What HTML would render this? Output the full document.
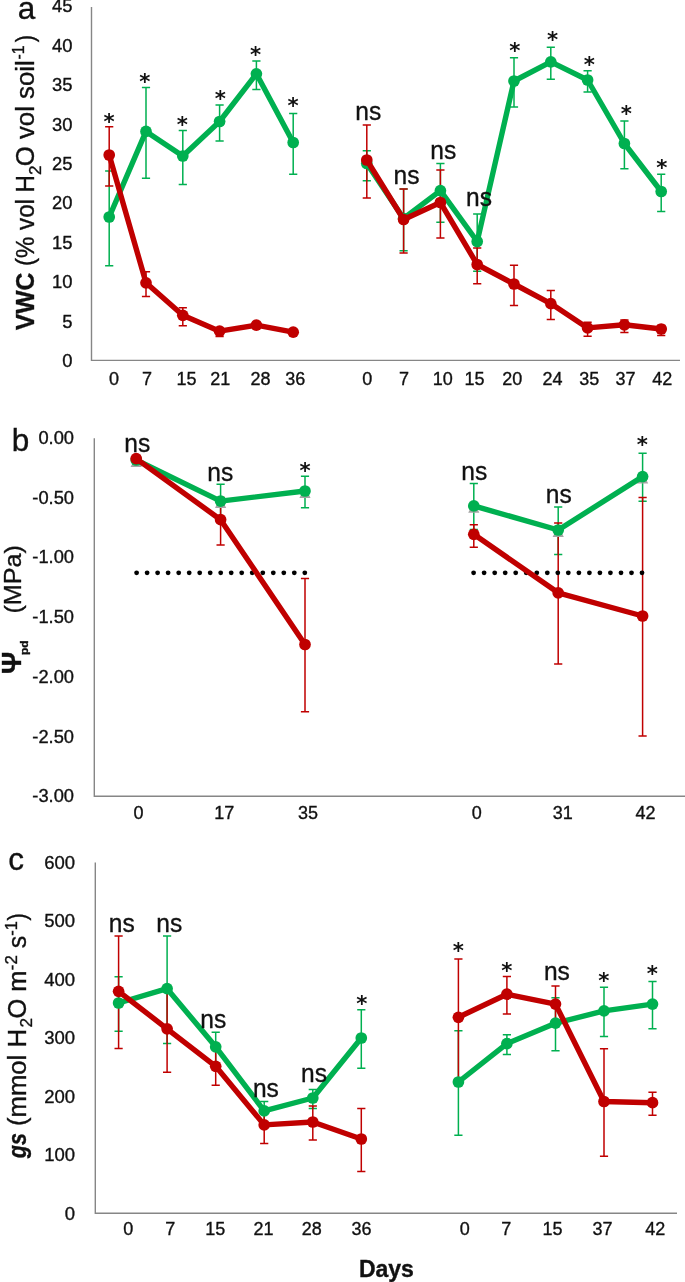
<!DOCTYPE html><html><head><meta charset="utf-8"><title>Figure</title>
<style>html,body{margin:0;padding:0;background:#fff}svg{display:block}text{font-family:"Liberation Sans",sans-serif;fill:#111;stroke:#111;stroke-width:0.35px}text.st{font-family:"DejaVu Sans","Liberation Sans",sans-serif;font-weight:bold;stroke:none}</style></head><body>
<svg width="685" height="1282" viewBox="0 0 685 1282">
<rect width="685" height="1282" fill="#fff"/>
<path d="M91.5 7V360.4H680" stroke="#868686" stroke-width="1.4" fill="none"/>
<text x="72.4" y="367.0" font-size="18.4" text-anchor="end" font-weight="normal" >0</text>
<text x="72.4" y="327.6" font-size="18.4" text-anchor="end" font-weight="normal" >5</text>
<text x="72.4" y="288.2" font-size="18.4" text-anchor="end" font-weight="normal" >10</text>
<text x="72.4" y="248.8" font-size="18.4" text-anchor="end" font-weight="normal" >15</text>
<text x="72.4" y="209.4" font-size="18.4" text-anchor="end" font-weight="normal" >20</text>
<text x="72.4" y="170.0" font-size="18.4" text-anchor="end" font-weight="normal" >25</text>
<text x="72.4" y="130.6" font-size="18.4" text-anchor="end" font-weight="normal" >30</text>
<text x="72.4" y="91.2" font-size="18.4" text-anchor="end" font-weight="normal" >35</text>
<text x="72.4" y="51.8" font-size="18.4" text-anchor="end" font-weight="normal" >40</text>
<text x="72.4" y="12.4" font-size="18.4" text-anchor="end" font-weight="normal" >45</text>
<path d="M109.2 171.1V265.7M105.1 171.1h8.2M105.1 265.7h8.2" stroke="#00b050" stroke-width="1.5" fill="none"/>
<path d="M146.0 87.4V178.2M141.9 87.4h8.2M141.9 178.2h8.2" stroke="#00b050" stroke-width="1.5" fill="none"/>
<path d="M182.8 130.4V184.4M178.7 130.4h8.2M178.7 184.4h8.2" stroke="#00b050" stroke-width="1.5" fill="none"/>
<path d="M219.6 104.9V140.9M215.5 104.9h8.2M215.5 140.9h8.2" stroke="#00b050" stroke-width="1.5" fill="none"/>
<path d="M256.4 61.0V89.4M252.3 61.0h8.2M252.3 89.4h8.2" stroke="#00b050" stroke-width="1.5" fill="none"/>
<path d="M293.2 113.6V174.2M289.1 113.6h8.2M289.1 174.2h8.2" stroke="#00b050" stroke-width="1.5" fill="none"/>
<path d="M366.8 150.8V180.7M362.7 150.8h8.2M362.7 180.7h8.2" stroke="#00b050" stroke-width="1.5" fill="none"/>
<path d="M403.6 189.1V250.7M399.5 189.1h8.2M399.5 250.7h8.2" stroke="#00b050" stroke-width="1.5" fill="none"/>
<path d="M440.4 163.6V222.2M436.3 163.6h8.2M436.3 222.2h8.2" stroke="#00b050" stroke-width="1.5" fill="none"/>
<path d="M477.2 214.0V271.2M473.1 214.0h8.2M473.1 271.2h8.2" stroke="#00b050" stroke-width="1.5" fill="none"/>
<path d="M514.0 57.8V107.0M509.9 57.8h8.2M509.9 107.0h8.2" stroke="#00b050" stroke-width="1.5" fill="none"/>
<path d="M550.8 47.2V79.2M546.7 47.2h8.2M546.7 79.2h8.2" stroke="#00b050" stroke-width="1.5" fill="none"/>
<path d="M587.6 70.7V92.1M583.5 70.7h8.2M583.5 92.1h8.2" stroke="#00b050" stroke-width="1.5" fill="none"/>
<path d="M624.4 121.1V168.7M620.3 121.1h8.2M620.3 168.7h8.2" stroke="#00b050" stroke-width="1.5" fill="none"/>
<path d="M661.2 174.3V211.5M657.1 174.3h8.2M657.1 211.5h8.2" stroke="#00b050" stroke-width="1.5" fill="none"/>
<path d="M109.2 126.8V186.0M105.1 126.8h8.2M105.1 186.0h8.2" stroke="#c00000" stroke-width="1.5" fill="none"/>
<path d="M146.0 271.8V296.6M141.9 271.8h8.2M141.9 296.6h8.2" stroke="#c00000" stroke-width="1.5" fill="none"/>
<path d="M182.8 307.7V325.7M178.7 307.7h8.2M178.7 325.7h8.2" stroke="#c00000" stroke-width="1.5" fill="none"/>
<path d="M219.6 328.6V336.6M215.5 328.6h8.2M215.5 336.6h8.2" stroke="#c00000" stroke-width="1.5" fill="none"/>
<path d="M366.8 124.9V197.9M362.7 124.9h8.2M362.7 197.9h8.2" stroke="#c00000" stroke-width="1.5" fill="none"/>
<path d="M403.6 188.9V252.9M399.5 188.9h8.2M399.5 252.9h8.2" stroke="#c00000" stroke-width="1.5" fill="none"/>
<path d="M440.4 169.9V237.9M436.3 169.9h8.2M436.3 237.9h8.2" stroke="#c00000" stroke-width="1.5" fill="none"/>
<path d="M477.2 248.0V283.8M473.1 248.0h8.2M473.1 283.8h8.2" stroke="#c00000" stroke-width="1.5" fill="none"/>
<path d="M514.0 265.3V305.5M509.9 265.3h8.2M509.9 305.5h8.2" stroke="#c00000" stroke-width="1.5" fill="none"/>
<path d="M550.8 290.6V319.4M546.7 290.6h8.2M546.7 319.4h8.2" stroke="#c00000" stroke-width="1.5" fill="none"/>
<path d="M587.6 322.3V336.3M583.5 322.3h8.2M583.5 336.3h8.2" stroke="#c00000" stroke-width="1.5" fill="none"/>
<path d="M624.4 320.0V332.4M620.3 320.0h8.2M620.3 332.4h8.2" stroke="#c00000" stroke-width="1.5" fill="none"/>
<path d="M661.2 325.4V335.4M657.1 325.4h8.2M657.1 335.4h8.2" stroke="#c00000" stroke-width="1.5" fill="none"/>
<path d="M109.2 217.0 L146.0 131.4 L182.8 156.0 L219.6 121.5 L256.4 73.8 L293.2 142.5" stroke="#00b050" stroke-width="5.4" fill="none" stroke-linejoin="round" stroke-linecap="round"/>
<circle cx="109.2" cy="217.0" r="5.85" fill="#00b050"/>
<circle cx="146.0" cy="131.4" r="5.85" fill="#00b050"/>
<circle cx="182.8" cy="156.0" r="5.85" fill="#00b050"/>
<circle cx="219.6" cy="121.5" r="5.85" fill="#00b050"/>
<circle cx="256.4" cy="73.8" r="5.85" fill="#00b050"/>
<circle cx="293.2" cy="142.5" r="5.85" fill="#00b050"/>
<path d="M366.8 163.5 L403.6 218.5 L440.4 190.7 L477.2 241.5 L514.0 81.0 L550.8 61.8 L587.6 80.0 L624.4 143.5 L661.2 191.5" stroke="#00b050" stroke-width="5.4" fill="none" stroke-linejoin="round" stroke-linecap="round"/>
<circle cx="366.8" cy="163.5" r="5.85" fill="#00b050"/>
<circle cx="403.6" cy="218.5" r="5.85" fill="#00b050"/>
<circle cx="440.4" cy="190.7" r="5.85" fill="#00b050"/>
<circle cx="477.2" cy="241.5" r="5.85" fill="#00b050"/>
<circle cx="514.0" cy="81.0" r="5.85" fill="#00b050"/>
<circle cx="550.8" cy="61.8" r="5.85" fill="#00b050"/>
<circle cx="587.6" cy="80.0" r="5.85" fill="#00b050"/>
<circle cx="624.4" cy="143.5" r="5.85" fill="#00b050"/>
<circle cx="661.2" cy="191.5" r="5.85" fill="#00b050"/>
<path d="M109.2 155.0 L146.0 282.8 L182.8 315.3 L219.6 331.2 L256.4 325.2 L293.2 332.2" stroke="#c00000" stroke-width="5.4" fill="none" stroke-linejoin="round" stroke-linecap="round"/>
<circle cx="109.2" cy="155.0" r="5.85" fill="#c00000"/>
<circle cx="146.0" cy="282.8" r="5.85" fill="#c00000"/>
<circle cx="182.8" cy="315.3" r="5.85" fill="#c00000"/>
<circle cx="219.6" cy="331.2" r="5.85" fill="#c00000"/>
<circle cx="256.4" cy="325.2" r="5.85" fill="#c00000"/>
<circle cx="293.2" cy="332.2" r="5.85" fill="#c00000"/>
<path d="M366.8 160.0 L403.6 219.5 L440.4 202.5 L477.2 264.5 L514.0 284.0 L550.8 303.6 L587.6 327.9 L624.4 324.8 L661.2 329.0" stroke="#c00000" stroke-width="5.4" fill="none" stroke-linejoin="round" stroke-linecap="round"/>
<circle cx="366.8" cy="160.0" r="5.85" fill="#c00000"/>
<circle cx="403.6" cy="219.5" r="5.85" fill="#c00000"/>
<circle cx="440.4" cy="202.5" r="5.85" fill="#c00000"/>
<circle cx="477.2" cy="264.5" r="5.85" fill="#c00000"/>
<circle cx="514.0" cy="284.0" r="5.85" fill="#c00000"/>
<circle cx="550.8" cy="303.6" r="5.85" fill="#c00000"/>
<circle cx="587.6" cy="327.9" r="5.85" fill="#c00000"/>
<circle cx="624.4" cy="324.8" r="5.85" fill="#c00000"/>
<circle cx="661.2" cy="329.0" r="5.85" fill="#c00000"/>
<text x="114.0" y="385.2" font-size="18" text-anchor="middle" font-weight="normal" >0</text>
<text x="147.1" y="385.2" font-size="18" text-anchor="middle" font-weight="normal" >7</text>
<text x="186.4" y="385.2" font-size="18" text-anchor="middle" font-weight="normal" >15</text>
<text x="220.3" y="385.2" font-size="18" text-anchor="middle" font-weight="normal" >21</text>
<text x="260.6" y="385.2" font-size="18" text-anchor="middle" font-weight="normal" >28</text>
<text x="295.3" y="385.2" font-size="18" text-anchor="middle" font-weight="normal" >36</text>
<text x="367.3" y="385.2" font-size="18" text-anchor="middle" font-weight="normal" >0</text>
<text x="404.0" y="385.2" font-size="18" text-anchor="middle" font-weight="normal" >7</text>
<text x="442.8" y="385.2" font-size="18" text-anchor="middle" font-weight="normal" >10</text>
<text x="474.5" y="385.2" font-size="18" text-anchor="middle" font-weight="normal" >15</text>
<text x="512.3" y="385.2" font-size="18" text-anchor="middle" font-weight="normal" >20</text>
<text x="552.5" y="385.2" font-size="18" text-anchor="middle" font-weight="normal" >24</text>
<text x="589.2" y="385.2" font-size="18" text-anchor="middle" font-weight="normal" >35</text>
<text x="625.4" y="385.2" font-size="18" text-anchor="middle" font-weight="normal" >37</text>
<text x="662.2" y="385.2" font-size="18" text-anchor="middle" font-weight="normal" >42</text>
<text x="109.1" y="129.2" font-size="21.3" text-anchor="middle" class="st">*</text>
<text x="144.9" y="89.3" font-size="21.3" text-anchor="middle" class="st">*</text>
<text x="182.2" y="131.6" font-size="21.3" text-anchor="middle" class="st">*</text>
<text x="220.2" y="106.1" font-size="21.3" text-anchor="middle" class="st">*</text>
<text x="255.6" y="62.4" font-size="21.3" text-anchor="middle" class="st">*</text>
<text x="293.0" y="113.1" font-size="21.3" text-anchor="middle" class="st">*</text>
<text x="514.7" y="57.9" font-size="21.3" text-anchor="middle" class="st">*</text>
<text x="552.5" y="47.0" font-size="21.3" text-anchor="middle" class="st">*</text>
<text x="589.2" y="71.8" font-size="21.3" text-anchor="middle" class="st">*</text>
<text x="626.4" y="121.4" font-size="21.3" text-anchor="middle" class="st">*</text>
<text x="661.7" y="174.6" font-size="21.3" text-anchor="middle" class="st">*</text>
<text transform="translate(368.3 119.7) scale(0.945 1)" font-size="26" text-anchor="middle" stroke-width="0.15">ns</text>
<text transform="translate(406.5 184.3) scale(0.945 1)" font-size="26" text-anchor="middle" stroke-width="0.15">ns</text>
<text transform="translate(443.3 159.4) scale(0.945 1)" font-size="26" text-anchor="middle" stroke-width="0.15">ns</text>
<text transform="translate(479.0 205.6) scale(0.945 1)" font-size="26" text-anchor="middle" stroke-width="0.15">ns</text>
<text x="26.4" y="19.1" font-size="31.5" text-anchor="middle" font-weight="normal" >a</text>
<text transform="translate(34.0 330.3) rotate(-90)" font-size="25.5" font-weight="bold" font-style="normal" textLength="57.5" lengthAdjust="spacingAndGlyphs">VWC</text>
<text transform="translate(34.0 266.0) rotate(-90)" font-size="25.5" font-weight="normal" font-style="normal" textLength="91.0" lengthAdjust="spacingAndGlyphs">(% vol H</text>
<text transform="translate(40.6 175.0) rotate(-90)" font-size="16.5" font-weight="normal" font-style="normal" textLength="9.5" lengthAdjust="spacingAndGlyphs">2</text>
<text transform="translate(34.0 166.3) rotate(-90)" font-size="25.5" font-weight="normal" font-style="normal" textLength="106.0" lengthAdjust="spacingAndGlyphs">O vol soil</text>
<text transform="translate(24.2 59.5) rotate(-90)" font-size="16.5" font-weight="normal" font-style="normal" textLength="14.0" lengthAdjust="spacingAndGlyphs">-1</text>
<text transform="translate(34.0 42.3) rotate(-90)" font-size="25.5" font-weight="normal" font-style="normal" textLength="7.3" lengthAdjust="spacingAndGlyphs">)</text>
<path d="M94.3 438.3V796.2H685" stroke="#868686" stroke-width="1.4" fill="none"/>
<text x="74.0" y="443.9" font-size="18.3" text-anchor="end" font-weight="normal" >0.00</text>
<text x="74.0" y="503.7" font-size="18.3" text-anchor="end" font-weight="normal" >-0.50</text>
<text x="74.0" y="563.4" font-size="18.3" text-anchor="end" font-weight="normal" >-1.00</text>
<text x="74.0" y="623.1" font-size="18.3" text-anchor="end" font-weight="normal" >-1.50</text>
<text x="74.0" y="682.9" font-size="18.3" text-anchor="end" font-weight="normal" >-2.00</text>
<text x="74.0" y="742.6" font-size="18.3" text-anchor="end" font-weight="normal" >-2.50</text>
<text x="74.0" y="802.4" font-size="18.3" text-anchor="end" font-weight="normal" >-3.00</text>
<path d="M136.2 456.2V465.2M132.1 456.2h8.2M132.1 465.2h8.2" stroke="#00b050" stroke-width="1.5" fill="none"/>
<path d="M220.6 484.3V518.5M216.5 484.3h8.2M216.5 518.5h8.2" stroke="#00b050" stroke-width="1.5" fill="none"/>
<path d="M305.0 476.3V507.8M300.9 476.3h8.2M300.9 507.8h8.2" stroke="#00b050" stroke-width="1.5" fill="none"/>
<path d="M473.8 483.6V529.6M469.7 483.6h8.2M469.7 529.6h8.2" stroke="#00b050" stroke-width="1.5" fill="none"/>
<path d="M558.2 507.0V554.4M554.1 507.0h8.2M554.1 554.4h8.2" stroke="#00b050" stroke-width="1.5" fill="none"/>
<path d="M642.6 453.3V501.3M638.5 453.3h8.2M638.5 501.3h8.2" stroke="#00b050" stroke-width="1.5" fill="none"/>
<path d="M136.2 456.3V462.3M132.1 456.3h8.2M132.1 462.3h8.2" stroke="#c00000" stroke-width="1.5" fill="none"/>
<path d="M220.6 497.5V544.9M216.5 497.5h8.2M216.5 544.9h8.2" stroke="#c00000" stroke-width="1.5" fill="none"/>
<path d="M305.0 578.6V711.8M300.9 578.6h8.2M300.9 711.8h8.2" stroke="#c00000" stroke-width="1.5" fill="none"/>
<path d="M473.8 524.7V547.2M469.7 524.7h8.2M469.7 547.2h8.2" stroke="#c00000" stroke-width="1.5" fill="none"/>
<path d="M558.2 522.9V664.1M554.1 522.9h8.2M554.1 664.1h8.2" stroke="#c00000" stroke-width="1.5" fill="none"/>
<path d="M642.6 497.4V736.0M638.5 497.4h8.2M638.5 736.0h8.2" stroke="#c00000" stroke-width="1.5" fill="none"/>
<circle cx="136.6" cy="572.8" r="2.4" fill="#000"/>
<circle cx="147.1" cy="572.8" r="2.4" fill="#000"/>
<circle cx="157.6" cy="572.8" r="2.4" fill="#000"/>
<circle cx="168.1" cy="572.8" r="2.4" fill="#000"/>
<circle cx="178.7" cy="572.8" r="2.4" fill="#000"/>
<circle cx="189.2" cy="572.8" r="2.4" fill="#000"/>
<circle cx="199.7" cy="572.8" r="2.4" fill="#000"/>
<circle cx="210.2" cy="572.8" r="2.4" fill="#000"/>
<circle cx="220.7" cy="572.8" r="2.4" fill="#000"/>
<circle cx="231.2" cy="572.8" r="2.4" fill="#000"/>
<circle cx="241.7" cy="572.8" r="2.4" fill="#000"/>
<circle cx="252.2" cy="572.8" r="2.4" fill="#000"/>
<circle cx="262.8" cy="572.8" r="2.4" fill="#000"/>
<circle cx="273.3" cy="572.8" r="2.4" fill="#000"/>
<circle cx="283.8" cy="572.8" r="2.4" fill="#000"/>
<circle cx="294.3" cy="572.8" r="2.4" fill="#000"/>
<circle cx="304.8" cy="572.8" r="2.4" fill="#000"/>
<circle cx="473.6" cy="572.8" r="2.4" fill="#000"/>
<circle cx="484.1" cy="572.8" r="2.4" fill="#000"/>
<circle cx="494.7" cy="572.8" r="2.4" fill="#000"/>
<circle cx="505.2" cy="572.8" r="2.4" fill="#000"/>
<circle cx="515.7" cy="572.8" r="2.4" fill="#000"/>
<circle cx="526.2" cy="572.8" r="2.4" fill="#000"/>
<circle cx="536.8" cy="572.8" r="2.4" fill="#000"/>
<circle cx="547.3" cy="572.8" r="2.4" fill="#000"/>
<circle cx="557.8" cy="572.8" r="2.4" fill="#000"/>
<circle cx="568.3" cy="572.8" r="2.4" fill="#000"/>
<circle cx="578.9" cy="572.8" r="2.4" fill="#000"/>
<circle cx="589.4" cy="572.8" r="2.4" fill="#000"/>
<circle cx="599.9" cy="572.8" r="2.4" fill="#000"/>
<circle cx="610.4" cy="572.8" r="2.4" fill="#000"/>
<circle cx="621.0" cy="572.8" r="2.4" fill="#000"/>
<circle cx="631.5" cy="572.8" r="2.4" fill="#000"/>
<circle cx="642.0" cy="572.8" r="2.4" fill="#000"/>
<path d="M130.6 466.9H141.8L136.2 456.0Z" fill="#a5a5a5"/>
<path d="M215.0 508.0H226.2L220.6 497.1Z" fill="#a5a5a5"/>
<path d="M299.4 497.9H310.6L305.0 487.0Z" fill="#a5a5a5"/>
<path d="M468.2 512.8H479.4L473.8 501.9Z" fill="#a5a5a5"/>
<path d="M552.6 536.9H563.8L558.2 526.0Z" fill="#a5a5a5"/>
<path d="M637.0 483.5H648.2L642.6 472.6Z" fill="#a5a5a5"/>
<path d="M136.2 460.0 L220.6 501.1 L305.0 491.0" stroke="#00b050" stroke-width="5.4" fill="none" stroke-linejoin="round" stroke-linecap="round"/>
<circle cx="136.2" cy="460.0" r="5.85" fill="#00b050"/>
<circle cx="220.6" cy="501.1" r="5.85" fill="#00b050"/>
<circle cx="305.0" cy="491.0" r="5.85" fill="#00b050"/>
<path d="M473.8 505.9 L558.2 530.0 L642.6 476.6" stroke="#00b050" stroke-width="5.4" fill="none" stroke-linejoin="round" stroke-linecap="round"/>
<circle cx="473.8" cy="505.9" r="5.85" fill="#00b050"/>
<circle cx="558.2" cy="530.0" r="5.85" fill="#00b050"/>
<circle cx="642.6" cy="476.6" r="5.85" fill="#00b050"/>
<path d="M136.2 458.6 L220.6 519.7 L305.0 644.5" stroke="#c00000" stroke-width="5.4" fill="none" stroke-linejoin="round" stroke-linecap="round"/>
<circle cx="136.2" cy="458.6" r="5.85" fill="#c00000"/>
<circle cx="220.6" cy="519.7" r="5.85" fill="#c00000"/>
<circle cx="305.0" cy="644.5" r="5.85" fill="#c00000"/>
<path d="M473.8 534.3 L558.2 592.8 L642.6 616.0" stroke="#c00000" stroke-width="5.4" fill="none" stroke-linejoin="round" stroke-linecap="round"/>
<circle cx="473.8" cy="534.3" r="5.85" fill="#c00000"/>
<circle cx="558.2" cy="592.8" r="5.85" fill="#c00000"/>
<circle cx="642.6" cy="616.0" r="5.85" fill="#c00000"/>
<text x="138.6" y="819.2" font-size="18" text-anchor="middle" font-weight="normal" >0</text>
<text x="224.3" y="819.2" font-size="18" text-anchor="middle" font-weight="normal" >17</text>
<text x="308.0" y="819.2" font-size="18" text-anchor="middle" font-weight="normal" >35</text>
<text x="476.8" y="819.2" font-size="18" text-anchor="middle" font-weight="normal" >0</text>
<text x="562.7" y="819.2" font-size="18" text-anchor="middle" font-weight="normal" >31</text>
<text x="645.5" y="819.2" font-size="18" text-anchor="middle" font-weight="normal" >42</text>
<text transform="translate(137.2 451.9) scale(0.945 1)" font-size="26" text-anchor="middle" stroke-width="0.15">ns</text>
<text transform="translate(220.3 480.5) scale(0.945 1)" font-size="26" text-anchor="middle" stroke-width="0.15">ns</text>
<text transform="translate(474.3 480.3) scale(0.945 1)" font-size="26" text-anchor="middle" stroke-width="0.15">ns</text>
<text transform="translate(558.7 502.8) scale(0.945 1)" font-size="26" text-anchor="middle" stroke-width="0.15">ns</text>
<text x="305.0" y="477.6" font-size="21.3" text-anchor="middle" class="st">*</text>
<text x="642.2" y="451.9" font-size="21.3" text-anchor="middle" class="st">*</text>
<text x="20.4" y="450.5" font-size="31.5" text-anchor="middle" font-weight="normal" >b</text>
<text transform="translate(21.4 613.6) rotate(-90)" font-size="24.5" textLength="68.6" lengthAdjust="spacingAndGlyphs">(MPa)</text>
<text transform="translate(20.7 674) rotate(-90)" font-size="27.5" font-weight="bold">Ψ</text>
<text transform="translate(28.4 655) rotate(-90)" font-size="10.5" font-weight="bold" textLength="14.6" lengthAdjust="spacingAndGlyphs" stroke-width="0.2">pd</text>
<path d="M95.3 862.4V1213.3H677" stroke="#868686" stroke-width="1.4" fill="none"/>
<text x="75.0" y="868.5" font-size="18.5" text-anchor="end" font-weight="normal" >600</text>
<text x="75.0" y="927.0" font-size="18.5" text-anchor="end" font-weight="normal" >500</text>
<text x="75.0" y="985.5" font-size="18.5" text-anchor="end" font-weight="normal" >400</text>
<text x="75.0" y="1044.0" font-size="18.5" text-anchor="end" font-weight="normal" >300</text>
<text x="75.0" y="1102.5" font-size="18.5" text-anchor="end" font-weight="normal" >200</text>
<text x="75.0" y="1161.0" font-size="18.5" text-anchor="end" font-weight="normal" >100</text>
<text x="75.0" y="1219.5" font-size="18.5" text-anchor="end" font-weight="normal" >0</text>
<path d="M118.6 976.7V1031.3M114.5 976.7h8.2M114.5 1031.3h8.2" stroke="#00b050" stroke-width="1.5" fill="none"/>
<path d="M167.1 935.9V1043.5M163.0 935.9h8.2M163.0 1043.5h8.2" stroke="#00b050" stroke-width="1.5" fill="none"/>
<path d="M215.7 1032.3V1063.3M211.6 1032.3h8.2M211.6 1063.3h8.2" stroke="#00b050" stroke-width="1.5" fill="none"/>
<path d="M264.2 1101.4V1122.4M260.1 1101.4h8.2M260.1 1122.4h8.2" stroke="#00b050" stroke-width="1.5" fill="none"/>
<path d="M312.8 1089.5V1108.5M308.7 1089.5h8.2M308.7 1108.5h8.2" stroke="#00b050" stroke-width="1.5" fill="none"/>
<path d="M361.3 1009.8V1068.2M357.2 1009.8h8.2M357.2 1068.2h8.2" stroke="#00b050" stroke-width="1.5" fill="none"/>
<path d="M458.4 1030.7V1135.3M454.3 1030.7h8.2M454.3 1135.3h8.2" stroke="#00b050" stroke-width="1.5" fill="none"/>
<path d="M506.9 1034.8V1054.4M502.8 1034.8h8.2M502.8 1054.4h8.2" stroke="#00b050" stroke-width="1.5" fill="none"/>
<path d="M555.5 997.7V1050.7M551.4 997.7h8.2M551.4 1050.7h8.2" stroke="#00b050" stroke-width="1.5" fill="none"/>
<path d="M604.0 987.2V1036.6M599.9 987.2h8.2M599.9 1036.6h8.2" stroke="#00b050" stroke-width="1.5" fill="none"/>
<path d="M652.5 981.5V1028.7M648.4 981.5h8.2M648.4 1028.7h8.2" stroke="#00b050" stroke-width="1.5" fill="none"/>
<path d="M118.6 936.0V1048.6M114.5 936.0h8.2M114.5 1048.6h8.2" stroke="#c00000" stroke-width="1.5" fill="none"/>
<path d="M167.1 987.3V1072.3M163.0 987.3h8.2M163.0 1072.3h8.2" stroke="#c00000" stroke-width="1.5" fill="none"/>
<path d="M215.7 1049.3V1085.3M211.6 1049.3h8.2M211.6 1085.3h8.2" stroke="#c00000" stroke-width="1.5" fill="none"/>
<path d="M264.2 1108.3V1143.5M260.1 1108.3h8.2M260.1 1143.5h8.2" stroke="#c00000" stroke-width="1.5" fill="none"/>
<path d="M312.8 1106.0V1140.0M308.7 1106.0h8.2M308.7 1140.0h8.2" stroke="#c00000" stroke-width="1.5" fill="none"/>
<path d="M361.3 1108.5V1171.5M357.2 1108.5h8.2M357.2 1171.5h8.2" stroke="#c00000" stroke-width="1.5" fill="none"/>
<path d="M458.4 959.0V1079.0M454.3 959.0h8.2M454.3 1079.0h8.2" stroke="#c00000" stroke-width="1.5" fill="none"/>
<path d="M506.9 976.4V1014.0M502.8 976.4h8.2M502.8 1014.0h8.2" stroke="#c00000" stroke-width="1.5" fill="none"/>
<path d="M555.5 986.1V1024.1M551.4 986.1h8.2M551.4 1024.1h8.2" stroke="#c00000" stroke-width="1.5" fill="none"/>
<path d="M604.0 1048.8V1156.2M599.9 1048.8h8.2M599.9 1156.2h8.2" stroke="#c00000" stroke-width="1.5" fill="none"/>
<path d="M652.5 1092.2V1115.2M648.4 1092.2h8.2M648.4 1115.2h8.2" stroke="#c00000" stroke-width="1.5" fill="none"/>
<path d="M118.6 1003.0 L167.1 988.7 L215.7 1046.8 L264.2 1110.9 L312.8 1098.0 L361.3 1038.0" stroke="#00b050" stroke-width="5.4" fill="none" stroke-linejoin="round" stroke-linecap="round"/>
<circle cx="118.6" cy="1003.0" r="5.85" fill="#00b050"/>
<circle cx="167.1" cy="988.7" r="5.85" fill="#00b050"/>
<circle cx="215.7" cy="1046.8" r="5.85" fill="#00b050"/>
<circle cx="264.2" cy="1110.9" r="5.85" fill="#00b050"/>
<circle cx="312.8" cy="1098.0" r="5.85" fill="#00b050"/>
<circle cx="361.3" cy="1038.0" r="5.85" fill="#00b050"/>
<path d="M118.6 991.3 L167.1 1028.8 L215.7 1066.3 L264.2 1124.9 L312.8 1122.0 L361.3 1139.0" stroke="#c00000" stroke-width="5.4" fill="none" stroke-linejoin="round" stroke-linecap="round"/>
<circle cx="118.6" cy="991.3" r="5.85" fill="#c00000"/>
<circle cx="167.1" cy="1028.8" r="5.85" fill="#c00000"/>
<circle cx="215.7" cy="1066.3" r="5.85" fill="#c00000"/>
<circle cx="264.2" cy="1124.9" r="5.85" fill="#c00000"/>
<circle cx="312.8" cy="1122.0" r="5.85" fill="#c00000"/>
<circle cx="361.3" cy="1139.0" r="5.85" fill="#c00000"/>
<path d="M458.4 1082.0 L506.9 1043.6 L555.5 1023.2 L604.0 1010.9 L652.5 1004.1" stroke="#00b050" stroke-width="5.4" fill="none" stroke-linejoin="round" stroke-linecap="round"/>
<circle cx="458.4" cy="1082.0" r="5.85" fill="#00b050"/>
<circle cx="506.9" cy="1043.6" r="5.85" fill="#00b050"/>
<circle cx="555.5" cy="1023.2" r="5.85" fill="#00b050"/>
<circle cx="604.0" cy="1010.9" r="5.85" fill="#00b050"/>
<circle cx="652.5" cy="1004.1" r="5.85" fill="#00b050"/>
<path d="M458.4 1017.3 L506.9 994.2 L555.5 1004.1 L604.0 1101.5 L652.5 1102.7" stroke="#c00000" stroke-width="5.4" fill="none" stroke-linejoin="round" stroke-linecap="round"/>
<circle cx="458.4" cy="1017.3" r="5.85" fill="#c00000"/>
<circle cx="506.9" cy="994.2" r="5.85" fill="#c00000"/>
<circle cx="555.5" cy="1004.1" r="5.85" fill="#c00000"/>
<circle cx="604.0" cy="1101.5" r="5.85" fill="#c00000"/>
<circle cx="652.5" cy="1102.7" r="5.85" fill="#c00000"/>
<text x="128.2" y="1234.9" font-size="18" text-anchor="middle" font-weight="normal" >0</text>
<text x="170.3" y="1234.9" font-size="18" text-anchor="middle" font-weight="normal" >7</text>
<text x="215.3" y="1234.9" font-size="18" text-anchor="middle" font-weight="normal" >15</text>
<text x="263.4" y="1234.9" font-size="18" text-anchor="middle" font-weight="normal" >21</text>
<text x="311.7" y="1234.9" font-size="18" text-anchor="middle" font-weight="normal" >28</text>
<text x="361.5" y="1234.9" font-size="18" text-anchor="middle" font-weight="normal" >36</text>
<text x="464.7" y="1234.9" font-size="18" text-anchor="middle" font-weight="normal" >0</text>
<text x="506.3" y="1234.9" font-size="18" text-anchor="middle" font-weight="normal" >7</text>
<text x="552.4" y="1234.9" font-size="18" text-anchor="middle" font-weight="normal" >15</text>
<text x="602.4" y="1234.9" font-size="18" text-anchor="middle" font-weight="normal" >37</text>
<text x="655.3" y="1234.9" font-size="18" text-anchor="middle" font-weight="normal" >42</text>
<text transform="translate(121.7 932.0) scale(0.945 1)" font-size="26" text-anchor="middle" stroke-width="0.15">ns</text>
<text transform="translate(169.3 932.0) scale(0.945 1)" font-size="26" text-anchor="middle" stroke-width="0.15">ns</text>
<text transform="translate(213.3 1028.2) scale(0.945 1)" font-size="26" text-anchor="middle" stroke-width="0.15">ns</text>
<text transform="translate(265.9 1096.8) scale(0.945 1)" font-size="26" text-anchor="middle" stroke-width="0.15">ns</text>
<text transform="translate(314.0 1082.3) scale(0.945 1)" font-size="26" text-anchor="middle" stroke-width="0.15">ns</text>
<text transform="translate(556.9 980.0) scale(0.945 1)" font-size="26" text-anchor="middle" stroke-width="0.15">ns</text>
<text x="361.9" y="1011.4" font-size="21.3" text-anchor="middle" class="st">*</text>
<text x="458.3" y="958.4" font-size="21.3" text-anchor="middle" class="st">*</text>
<text x="506.9" y="977.6" font-size="21.3" text-anchor="middle" class="st">*</text>
<text x="603.7" y="987.9" font-size="21.3" text-anchor="middle" class="st">*</text>
<text x="652.3" y="980.8" font-size="21.3" text-anchor="middle" class="st">*</text>
<text x="16.2" y="870.0" font-size="31.5" text-anchor="middle" font-weight="normal" >c</text>
<text transform="translate(26.3 1158.2) rotate(-90)" font-size="25" font-weight="bold" font-style="italic" textLength="25.0" lengthAdjust="spacingAndGlyphs">gs</text>
<text transform="translate(26.3 1126.0) rotate(-90)" font-size="25" font-weight="normal" font-style="normal" textLength="97.0" lengthAdjust="spacingAndGlyphs">(mmol H</text>
<text transform="translate(31.9 1027.5) rotate(-90)" font-size="16.5" font-weight="normal" font-style="normal" textLength="9.5" lengthAdjust="spacingAndGlyphs">2</text>
<text transform="translate(26.3 1018.5) rotate(-90)" font-size="25" font-weight="normal" font-style="normal" textLength="48.0" lengthAdjust="spacingAndGlyphs">O m</text>
<text transform="translate(16.8 970.2) rotate(-90)" font-size="16.5" font-weight="normal" font-style="normal" textLength="15.0" lengthAdjust="spacingAndGlyphs">-2</text>
<text transform="translate(26.3 948.3) rotate(-90)" font-size="25" font-weight="normal" font-style="normal" textLength="12.5" lengthAdjust="spacingAndGlyphs">s</text>
<text transform="translate(16.8 935.8) rotate(-90)" font-size="16.5" font-weight="normal" font-style="normal" textLength="14.5" lengthAdjust="spacingAndGlyphs">-1</text>
<text transform="translate(26.3 920.4) rotate(-90)" font-size="25" font-weight="normal" font-style="normal" textLength="7.3" lengthAdjust="spacingAndGlyphs">)</text>
<text x="386.4" y="1276.5" font-size="23" text-anchor="middle" font-weight="bold" >Days</text>
</svg></body></html>
